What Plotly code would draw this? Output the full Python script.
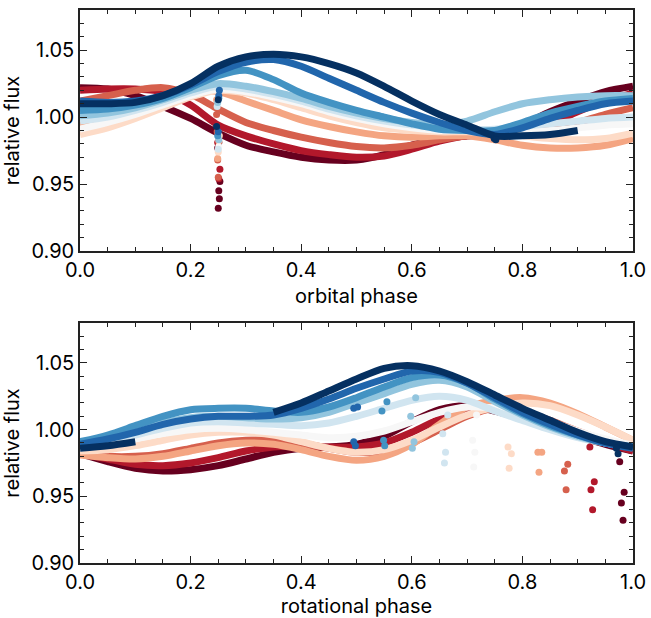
import plotly.graph_objects as go

# ---------------- data ----------------
PHASE = [0.00, 0.05, 0.10, 0.15, 0.20, 0.25, 0.30, 0.35, 0.40, 0.45, 0.50,
         0.55, 0.60, 0.65, 0.70, 0.75, 0.80, 0.85, 0.90, 0.95, 1.00]

COLORS = ['#67001f', '#b2182b', '#d6604d', '#f4a582', '#fddbc7', '#f7f7f7',
          '#d1e5f0', '#92c5de', '#4393c3', '#2166ac', '#053061']

# orbital phase light curves (top panel)
ORB_S0 = [1.022, 1.021, 1.016, 1.008, 0.999, 0.988, 0.979, 0.974, 0.970, 0.968, 0.968,
          0.972, 0.979, 0.984, 0.986, 0.987, 0.994, 1.004, 1.012, 1.019, 1.023]
ORB_S1 = [1.020, 1.021, 1.021, 1.019, 1.009, 0.994, 0.986, 0.980, 0.975, 0.972, 0.970,
          0.971, 0.976, 0.982, 0.986, 0.987, 0.989, 0.995, 1.004, 1.012, 1.018]
ORB_S2 = [1.012, 1.016, 1.020, 1.022, 1.017, 1.006, 0.996, 0.990, 0.985, 0.981, 0.978,
          0.977, 0.979, 0.983, 0.986, 0.988, 0.988, 0.991, 0.996, 1.002, 1.007]
ORB_S3 = [0.994, 1.000, 1.007, 1.015, 1.020, 1.019, 1.012, 1.005, 0.998, 0.993, 0.989,
          0.986, 0.985, 0.986, 0.986, 0.983, 0.979, 0.977, 0.977, 0.979, 0.984]
ORB_S4 = [0.987, 0.992, 0.999, 1.007, 1.015, 1.020, 1.018, 1.013, 1.007, 1.001, 0.996,
          0.992, 0.990, 0.989, 0.989, 0.988, 0.986, 0.984, 0.983, 0.984, 0.988]
ORB_S5 = [0.991, 0.996, 1.002, 1.009, 1.016, 1.021, 1.019, 1.015, 1.010, 1.004, 0.999,
          0.995, 0.992, 0.990, 0.990, 0.989, 0.989, 0.990, 0.992, 0.994, 0.995]
ORB_S6 = [0.997, 1.000, 1.005, 1.011, 1.018, 1.023, 1.021, 1.017, 1.012, 1.006, 1.001,
          0.997, 0.994, 0.992, 0.991, 0.991, 0.993, 0.995, 0.997, 0.999, 1.000]
ORB_S7 = [1.001, 1.003, 1.007, 1.013, 1.020, 1.025, 1.023, 1.019, 1.014, 1.008, 1.003,
          0.999, 0.996, 0.994, 0.997, 1.004, 1.010, 1.013, 1.015, 1.016, 1.016]
ORB_S8 = [1.005, 1.006, 1.009, 1.014, 1.022, 1.031, 1.035, 1.028, 1.018, 1.011, 1.005,
          1.000, 0.995, 0.991, 0.990, 0.990, 0.996, 1.003, 1.008, 1.012, 1.014]
ORB_S9 = [1.012, 1.011, 1.012, 1.016, 1.024, 1.034, 1.041, 1.043, 1.038, 1.029, 1.020,
          1.011, 1.003, 0.996, 0.990, 0.987, 0.992, 0.999, 1.005, 1.010, 1.012]
ORB_S10 = [1.010, 1.010, 1.011, 1.016, 1.025, 1.038, 1.045, 1.047, 1.045, 1.040, 1.033,
           1.023, 1.012, 1.002, 0.994, 0.986, 0.986, 0.987, 0.990, None, None]

# rotational phase light curves (bottom panel)
ROT_S0 = [0.982, 0.976, 0.971, 0.969, 0.970, 0.973, 0.978, 0.983, 0.986, 0.987, 0.989,
          0.995, 1.006, 1.015, 1.018, 1.014, 1.008, 1.001, 0.995, 0.989, 0.984]
ROT_S1 = [0.982, 0.978, 0.974, 0.973, 0.975, 0.979, 0.984, 0.987, 0.988, 0.987, 0.987,
          0.990, 0.998, 1.008, 1.015, 1.016, 1.010, 1.003, 0.996, 0.990, 0.984]
ROT_S2 = [0.982, 0.980, 0.980, 0.982, 0.986, 0.990, 0.992, 0.992, 0.990, 0.986, 0.983,
          0.984, 0.990, 1.000, 1.010, 1.016, 1.014, 1.007, 0.999, 0.992, 0.986]
ROT_S3 = [0.981, 0.979, 0.978, 0.980, 0.984, 0.988, 0.990, 0.989, 0.985, 0.980, 0.977,
          0.980, 0.989, 1.004, 1.017, 1.022, 1.024, 1.020, 1.012, 1.002, 0.992]
ROT_S4 = [0.984, 0.985, 0.988, 0.992, 0.996, 0.998, 0.998, 0.996, 0.991, 0.986, 0.983,
          0.985, 0.992, 1.002, 1.011, 1.017, 1.020, 1.018, 1.011, 1.002, 0.992]
ROT_S5 = [0.986, 0.989, 0.993, 0.997, 1.000, 1.001, 1.000, 0.998, 0.996, 0.994, 0.995,
          0.999, 1.006, 1.013, 1.017, 1.016, 1.012, 1.006, 0.999, 0.993, 0.988]
ROT_S6 = [0.988, 0.991, 0.996, 1.001, 1.005, 1.006, 1.005, 1.004, 1.003, 1.005, 1.010,
          1.016, 1.022, 1.025, 1.022, 1.014, 1.007, 1.000, 0.994, 0.990, 0.987]
ROT_S7 = [0.989, 0.993, 0.999, 1.005, 1.009, 1.010, 1.009, 1.008, 1.009, 1.013, 1.020,
          1.027, 1.034, 1.037, 1.032, 1.021, 1.011, 1.002, 0.995, 0.990, 0.987]
ROT_S8 = [0.991, 0.996, 1.003, 1.010, 1.015, 1.016, 1.016, 1.014, 1.013, 1.017, 1.024,
          1.032, 1.039, 1.041, 1.035, 1.023, 1.012, 1.003, 0.996, 0.990, 0.987]
ROT_S9 = [0.989, 0.993, 0.998, 1.004, 1.008, 1.010, 1.010, 1.011, 1.016, 1.023, 1.031,
          1.038, 1.044, 1.043, 1.035, 1.024, 1.013, 1.004, 0.996, 0.990, 0.986]
ROT_S10 = [0.986, 0.988, 0.991, None, None, None, None, 1.013, 1.020, 1.029, 1.038,
           1.046, 1.048, 1.044, 1.036, 1.026, 1.016, 1.007, 0.998, 0.991, 0.987]

# in-eclipse points (top panel)
ORB_DIP_X0 = [0.250, 0.252, 0.251, 0.253, 0.249, 0.251]
ORB_DIP_Y0 = [0.932, 0.939, 0.945, 0.952, 0.977, 0.981]
ORB_DIP_X1 = [0.253, 0.251, 0.249]
ORB_DIP_Y1 = [0.961, 0.954, 0.981]
ORB_DIP_X2 = [0.250, 0.249, 0.248, 0.247]
ORB_DIP_Y2 = [0.955, 0.968, 0.989, 1.002]
ORB_DIP_X3 = [0.249, 0.251, 0.247]
ORB_DIP_Y3 = [0.969, 0.982, 1.013]
ORB_DIP_X4 = [0.250, 0.252]
ORB_DIP_Y4 = [0.974, 0.986]
ORB_DIP_X5 = [0.251]
ORB_DIP_Y5 = [0.978]
ORB_DIP_X6 = [0.250, 0.248]
ORB_DIP_Y6 = [0.976, 1.008]
ORB_DIP_X7 = [0.251, 0.249]
ORB_DIP_Y7 = [0.983, 1.011]
ORB_DIP_X8 = [0.249, 0.251]
ORB_DIP_Y8 = [0.986, 1.014]
ORB_DIP_X9 = [0.250, 0.252, 0.251]
ORB_DIP_Y9 = [0.989, 1.020, 1.016]
ORB_DIP_X10 = [0.247, 0.250, 0.749, 0.752]
ORB_DIP_Y10 = [0.993, 1.013, 0.984, 0.983]

# in-eclipse points (bottom panel)
ROT_DIP_X0 = [0.976, 0.984, 0.979, 0.982]
ROT_DIP_Y0 = [0.976, 0.953, 0.945, 0.932]
ROT_DIP_X1 = [0.922, 0.930, 0.924, 0.927]
ROT_DIP_Y1 = [0.987, 0.961, 0.955, 0.940]
ROT_DIP_X2 = [0.882, 0.876, 0.879]
ROT_DIP_Y2 = [0.974, 0.969, 0.955]
ROT_DIP_X3 = [0.828, 0.835, 0.830]
ROT_DIP_Y3 = [0.983, 0.983, 0.968]
ROT_DIP_X4 = [0.774, 0.780, 0.776]
ROT_DIP_Y4 = [0.987, 0.982, 0.971]
ROT_DIP_X5 = [0.717, 0.710, 0.714, 0.712]
ROT_DIP_Y5 = [1.011, 0.992, 0.983, 0.972]
ROT_DIP_X6 = [0.665, 0.656, 0.661, 0.659]
ROT_DIP_Y6 = [1.011, 0.997, 0.983, 0.975]
ROT_DIP_X7 = [0.598, 0.607, 0.604, 0.601]
ROT_DIP_Y7 = [1.010, 1.024, 0.991, 0.986]
ROT_DIP_X8 = [0.546, 0.555, 0.549, 0.551]
ROT_DIP_Y8 = [1.014, 1.021, 0.992, 0.988]
ROT_DIP_X9 = [0.495, 0.502, 0.495, 0.498]
ROT_DIP_Y9 = [1.016, 1.017, 0.991, 0.988]
ROT_DIP_X10 = [0.970, 0.973]
ROT_DIP_Y10 = [0.986, 0.982]

ORB = [ORB_S0, ORB_S1, ORB_S2, ORB_S3, ORB_S4, ORB_S5, ORB_S6, ORB_S7, ORB_S8, ORB_S9, ORB_S10]
ROT = [ROT_S0, ROT_S1, ROT_S2, ROT_S3, ROT_S4, ROT_S5, ROT_S6, ROT_S7, ROT_S8, ROT_S9, ROT_S10]
ORB_DIP = [(ORB_DIP_X0, ORB_DIP_Y0), (ORB_DIP_X1, ORB_DIP_Y1), (ORB_DIP_X2, ORB_DIP_Y2),
           (ORB_DIP_X3, ORB_DIP_Y3), (ORB_DIP_X4, ORB_DIP_Y4), (ORB_DIP_X5, ORB_DIP_Y5),
           (ORB_DIP_X6, ORB_DIP_Y6), (ORB_DIP_X7, ORB_DIP_Y7), (ORB_DIP_X8, ORB_DIP_Y8),
           (ORB_DIP_X9, ORB_DIP_Y9), (ORB_DIP_X10, ORB_DIP_Y10)]
ROT_DIP = [(ROT_DIP_X0, ROT_DIP_Y0), (ROT_DIP_X1, ROT_DIP_Y1), (ROT_DIP_X2, ROT_DIP_Y2),
           (ROT_DIP_X3, ROT_DIP_Y3), (ROT_DIP_X4, ROT_DIP_Y4), (ROT_DIP_X5, ROT_DIP_Y5),
           (ROT_DIP_X6, ROT_DIP_Y6), (ROT_DIP_X7, ROT_DIP_Y7), (ROT_DIP_X8, ROT_DIP_Y8),
           (ROT_DIP_X9, ROT_DIP_Y9), (ROT_DIP_X10, ROT_DIP_Y10)]

# ---------------- figure ----------------
fig = go.Figure()
LW = 7
for panel, (curves, dips) in enumerate([(ORB, ORB_DIP), (ROT, ROT_DIP)]):
    xa = 'x' if panel == 0 else 'x2'
    ya = 'y' if panel == 0 else 'y2'
    for i, ys in enumerate(curves):
        fig.add_trace(go.Scatter(x=PHASE, y=ys, mode='lines', xaxis=xa, yaxis=ya,
                                 line=dict(color=COLORS[i], width=LW, shape='spline', smoothing=0.8),
                                 connectgaps=False, showlegend=False, hoverinfo='skip'))
    for i, (dx, dy) in enumerate(dips):
        fig.add_trace(go.Scatter(x=dx, y=dy, mode='markers', xaxis=xa, yaxis=ya,
                                 marker=dict(color=COLORS[i], size=7, line=dict(width=0)),
                                 showlegend=False, hoverinfo='skip'))

FONT = dict(family='Inter, Liberation Sans, Arial, sans-serif', size=20, color='black')

def xax(title, anchor):
    return dict(range=[0, 1], tickvals=[0, 0.2, 0.4, 0.6, 0.8, 1.0], tickformat='.1f',
                ticks='inside', ticklen=7, tickwidth=1.3, tickcolor='#222',
                minor=dict(dtick=0.05, ticks='inside', ticklen=4, tickwidth=1.1, tickcolor='#222'),
                showline=True, linecolor='#222', linewidth=1.6, mirror='allticks',
                showgrid=False, zeroline=False, tickfont=FONT, ticklabeloverflow='allow',
                automargin=False,
                title=dict(text=title, font=FONT, standoff=8), anchor=anchor)

def yax(domain, anchor):
    return dict(range=[0.90, 1.08], tickvals=[0.90, 0.95, 1.00, 1.05], tickformat='.2f',
                ticks='inside', ticklen=7, tickwidth=1.3, tickcolor='#222',
                minor=dict(dtick=0.01, ticks='inside', ticklen=4, tickwidth=1.1, tickcolor='#222'),
                showline=True, linecolor='#222', linewidth=1.6, mirror='allticks',
                showgrid=False, zeroline=False, tickfont=FONT, domain=domain,
                automargin=False,
                title=dict(text='relative flux', font=FONT, standoff=10), anchor=anchor)

fig.update_layout(
    width=651, height=618, autosize=False,
    margin=dict(l=80, r=18, t=10, b=55),
    paper_bgcolor='white', plot_bgcolor='white',
    font=FONT,
    xaxis=xax('orbital phase', 'y'),
    yaxis=yax([0.5642, 1.0], 'x'),
    xaxis2=xax('rotational phase', 'y2'),
    yaxis2=yax([0.0, 0.434], 'x2'),
)

fig.write_html('out.html',
               config={'responsive': False, 'displayModeBar': False},
               post_script="document.documentElement.style.overflow='hidden';"
                           "document.body.style.margin='0';")
